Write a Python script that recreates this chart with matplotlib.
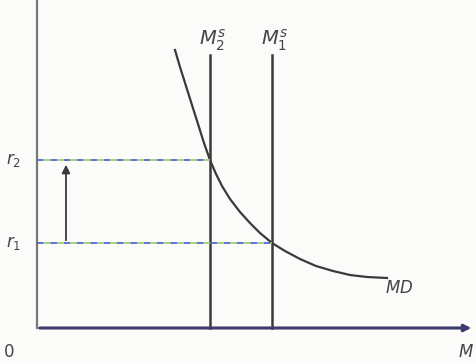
import matplotlib.pyplot as plt

# money market diagram, coordinates (pixels, y downwards)
md_x = [175, 180, 186, 192, 198, 204, 210, 216, 222, 230, 240, 250, 260, 272,
        285, 300, 316, 333, 350, 367, 387]
md_y = [50, 67, 86, 105, 124, 143, 160, 174, 186, 199, 212, 223, 233, 243,
        251, 259, 266, 271, 275, 277, 278]
supply_x = [210, 272]
supply_labels = ['$M_2^s$', '$M_1^s$']
rate_y = [160, 243]
rate_x = [210, 272]
rate_labels = ['$r_2$', '$r_1$']

fig = plt.figure(figsize=(4.77, 3.63), dpi=100)
ax = fig.add_axes([0, 0, 1, 1])
ax.set_xlim(0, 477)
ax.set_ylim(363, 0)
ax.axis('off')
fig.patch.set_facecolor('#fbfbfa')

ink = '#3a3a3a'
# axes
ax.plot([37, 37], [0, 328], color='#777777', lw=1.6)
ax.annotate('', xy=(474, 328), xytext=(37, 328),
            arrowprops=dict(arrowstyle='-|>', color='#3b3b6e', lw=2.2, mutation_scale=10))
ax.plot([37, 470], [328, 328], color='#6a9a4a', lw=1.2, alpha=0.5)

# money supply lines
for x, lab in zip(supply_x, supply_labels):
    ax.plot([x, x], [55, 328], color=ink, lw=1.8)
    ax.text(x + 2, 40, lab, fontsize=14, color='#444444', style='italic', ha='center', va='center')

# money demand
ax.plot(md_x, md_y, color=ink, lw=1.6, solid_joinstyle='round')
ax.text(385, 288, '$MD$', fontsize=12, color='#444444', va='center')

# interest rate guides
for y, x, lab in zip(rate_y, rate_x, rate_labels):
    ax.plot([37, x], [y, y], color='#4a5ac8', lw=1.2, ls=(0, (4, 4)))
    ax.plot([37, x], [y, y], color='#8fcf6a', lw=1.2, ls=(4, (4, 4)))
    ax.text(6, y, lab, fontsize=12, color='#444444', va='center')

ax.annotate('', xy=(66, 162), xytext=(66, 243),
            arrowprops=dict(arrowstyle='-|>', color=ink, lw=1.3, mutation_scale=12))

ax.text(4, 352, '0', fontsize=12, color='#444444', va='center')
ax.text(458, 352, '$M$', fontsize=12, color='#444444', va='center')

fig.savefig('out.png', dpi=100, facecolor=fig.get_facecolor())
